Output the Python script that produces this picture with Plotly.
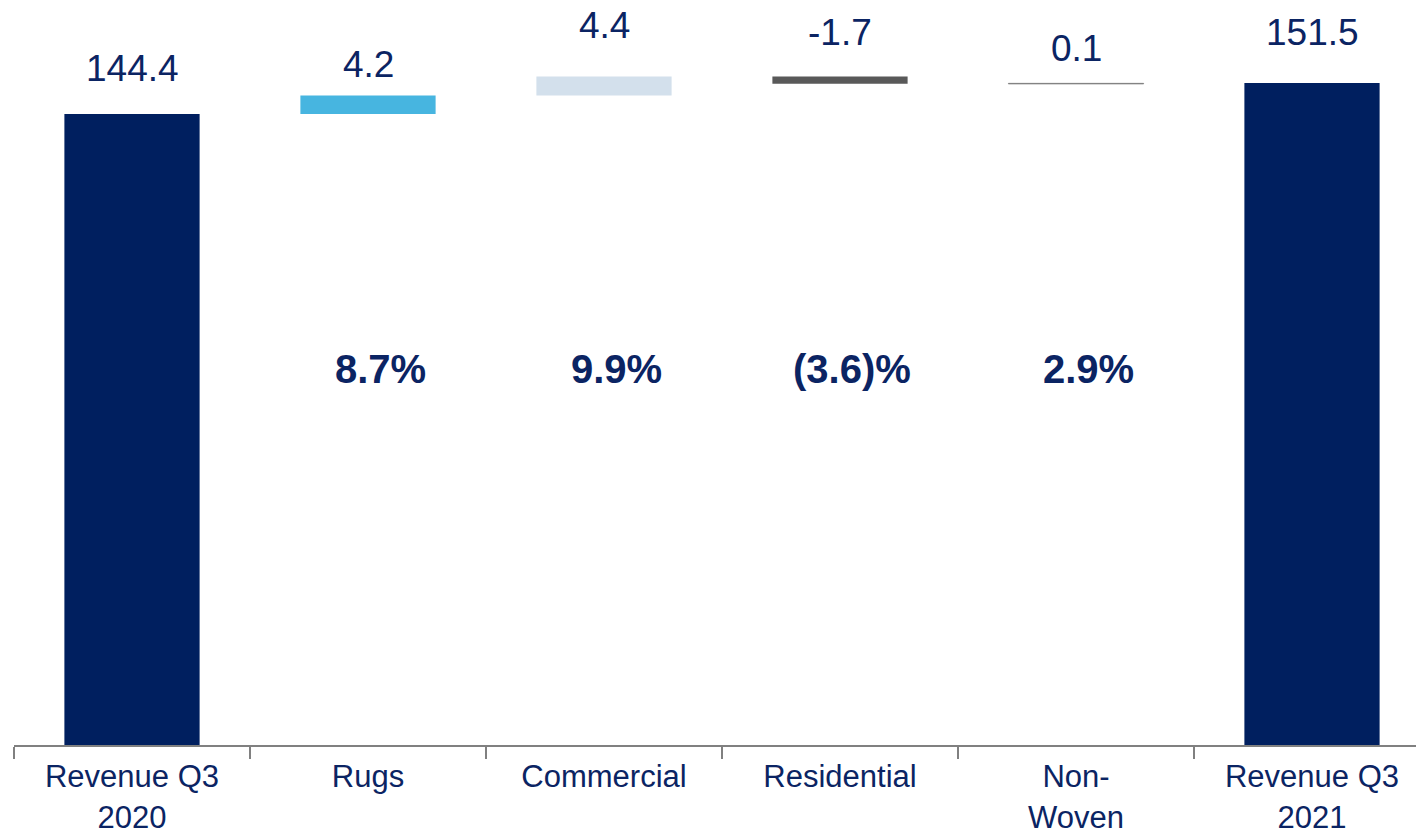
import plotly.graph_objects as go

categories = ["Revenue Q3<br>2020", "Rugs", "Commercial", "Residential", "Non-<br>Woven", "Revenue Q3<br>2021"]
values = [144.4, 4.2, 4.4, -1.7, 0.1, 151.5]
kinds = ["total", "delta", "delta", "delta", "delta", "total"]
value_labels = ["144.4", "4.2", "4.4", "-1.7", "0.1", "151.5"]
pct_labels = ["", "8.7%", "9.9%", "(3.6)%", "2.9%", ""]

bar_colors = ["#001F5F", "#47B5E0", "#D3E0EC", "#595959", "#808080", "#001F5F"]
label_shift = [45, 31, 51, 44, 35, 50]

NAVY = "#0B2463"
FONT = "Liberation Sans, Arial, sans-serif"

# compute bases from running total
bases, heights, tops = [], [], []
run = 0.0
for v, k in zip(values, kinds):
    if k == "total":
        bases.append(0)
        heights.append(v)
        run = v
        tops.append(v)
    else:
        bases.append(run)
        heights.append(v)
        tops.append(max(run, run + v))
        run = run + v

fig = go.Figure()
fig.add_trace(go.Bar(
    x=categories, y=heights, base=bases,
    marker=dict(color=bar_colors,
                line=dict(color=bar_colors, width=[0, 0, 0, 0, 1, 0])),
    width=0.573, hoverinfo="skip", showlegend=False,
))

annotations = []
for cat, t, lab, sh in zip(categories, tops, value_labels, label_shift):
    annotations.append(dict(x=cat, y=t, xref="x", yref="y", text=lab, showarrow=False,
                            yshift=sh, yanchor="middle",
                            font=dict(family=FONT, size=37, color=NAVY)))
for cat, p in zip(categories, pct_labels):
    if p:
        annotations.append(dict(x=cat, y=0.505, xref="x", yref="paper", text="<b>%s</b>" % p,
                                showarrow=False, xshift=12, yanchor="middle",
                                font=dict(family=FONT, size=40, color=NAVY)))

fig.update_layout(
    width=1416, height=836,
    margin=dict(l=14, r=0, t=0, b=91, autoexpand=False),
    paper_bgcolor="white", plot_bgcolor="white",
    annotations=annotations,
    xaxis=dict(
        type="category", automargin=False,
        range=[-0.5, -0.5 + 1402 / 236], showline=True, linecolor="#808080", linewidth=2,
        ticks="outside", tickson="boundaries", ticklen=12, tickcolor="#808080", tickwidth=1.5,
        ticklabelstandoff=3,
        showgrid=False, zeroline=False,
        tickfont=dict(family=FONT, size=31, color=NAVY),
    ),
    yaxis=dict(range=[0, 745 / 4.37], visible=False, showgrid=False, zeroline=False),
)

fig.write_html("out.html")
